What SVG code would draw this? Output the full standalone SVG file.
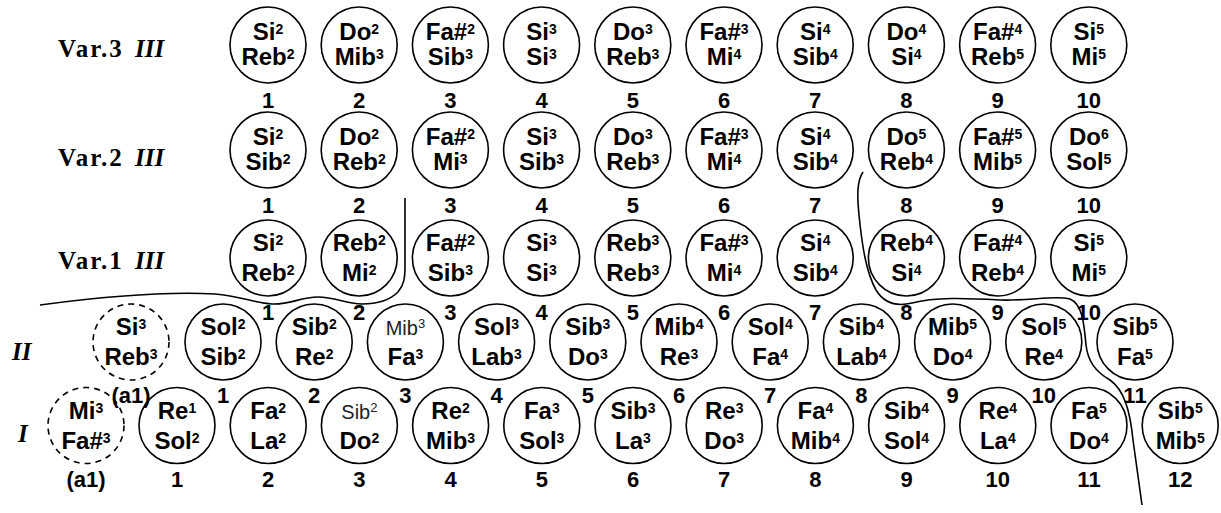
<svg xmlns="http://www.w3.org/2000/svg" width="1221" height="513" viewBox="0 0 1221 513">
<style>
.c{fill:none;stroke:#000;stroke-width:1.6}
.d{stroke-dasharray:6 5}
.t{font-family:"Liberation Sans",Arial,sans-serif;font-weight:bold;font-size:24px;text-anchor:middle;fill:#000}
.s{font-size:14px}
.l{font-weight:normal;font-size:20px;fill:#222}
.ls{font-size:13px}
.n{font-family:"Liberation Sans",Arial,sans-serif;font-weight:bold;font-size:22px;text-anchor:middle;fill:#000}
.lab{font-family:"Liberation Serif","Times New Roman",serif;font-weight:bold;font-size:25px;fill:#000}
.it{font-style:italic;letter-spacing:0}
.ln{fill:none;stroke:#000;stroke-width:1.6}
</style>
<rect width="1221" height="513" fill="#fff"/>
<g id="labels">
<text class="lab" x="58" y="57" letter-spacing="2">Var.3</text><text class="lab it" x="135" y="57">III</text>
<text class="lab" x="58" y="166" letter-spacing="2">Var.2</text><text class="lab it" x="135" y="166">III</text>
<text class="lab" x="58" y="269" letter-spacing="2">Var.1</text><text class="lab it" x="135" y="269">III</text>
<text class="lab it" x="12" y="360">II</text>
<text class="lab it" x="18" y="442">I</text>
</g>
<g id="var3">
<g id="v3-1"><circle class="c" cx="268" cy="45" r="38"/><text class="t" x="268" y="40">Si<tspan class="s" dy="-6">2</tspan></text><text class="t" x="268" y="65">Reb<tspan class="s" dy="-6">2</tspan></text><text class="n" x="268" y="108">1</text></g>
<g id="v3-2"><circle class="c" cx="359.2" cy="45" r="38"/><text class="t" x="359.2" y="40">Do<tspan class="s" dy="-6">2</tspan></text><text class="t" x="359.2" y="65">Mib<tspan class="s" dy="-6">3</tspan></text><text class="n" x="359.2" y="108">2</text></g>
<g id="v3-3"><circle class="c" cx="450.4" cy="45" r="38"/><text class="t" x="450.4" y="40">Fa#<tspan class="s" dy="-6">2</tspan></text><text class="t" x="450.4" y="65">Sib<tspan class="s" dy="-6">3</tspan></text><text class="n" x="450.4" y="108">3</text></g>
<g id="v3-4"><circle class="c" cx="541.6" cy="45" r="38"/><text class="t" x="541.6" y="40">Si<tspan class="s" dy="-6">3</tspan></text><text class="t" x="541.6" y="65">Si<tspan class="s" dy="-6">3</tspan></text><text class="n" x="541.6" y="108">4</text></g>
<g id="v3-5"><circle class="c" cx="632.8" cy="45" r="38"/><text class="t" x="632.8" y="40">Do<tspan class="s" dy="-6">3</tspan></text><text class="t" x="632.8" y="65">Reb<tspan class="s" dy="-6">3</tspan></text><text class="n" x="632.8" y="108">5</text></g>
<g id="v3-6"><circle class="c" cx="724" cy="45" r="38"/><text class="t" x="724" y="40">Fa#<tspan class="s" dy="-6">3</tspan></text><text class="t" x="724" y="65">Mi<tspan class="s" dy="-6">4</tspan></text><text class="n" x="724" y="108">6</text></g>
<g id="v3-7"><circle class="c" cx="815.2" cy="45" r="38"/><text class="t" x="815.2" y="40">Si<tspan class="s" dy="-6">4</tspan></text><text class="t" x="815.2" y="65">Sib<tspan class="s" dy="-6">4</tspan></text><text class="n" x="815.2" y="108">7</text></g>
<g id="v3-8"><circle class="c" cx="906.4" cy="45" r="38"/><text class="t" x="906.4" y="40">Do<tspan class="s" dy="-6">4</tspan></text><text class="t" x="906.4" y="65">Si<tspan class="s" dy="-6">4</tspan></text><text class="n" x="906.4" y="108">8</text></g>
<g id="v3-9"><circle class="c" cx="997.6" cy="45" r="38"/><text class="t" x="997.6" y="40">Fa#<tspan class="s" dy="-6">4</tspan></text><text class="t" x="997.6" y="65">Reb<tspan class="s" dy="-6">5</tspan></text><text class="n" x="997.6" y="108">9</text></g>
<g id="v3-10"><circle class="c" cx="1088.8" cy="45" r="38"/><text class="t" x="1088.8" y="40">Si<tspan class="s" dy="-6">5</tspan></text><text class="t" x="1088.8" y="65">Mi<tspan class="s" dy="-6">5</tspan></text><text class="n" x="1088.8" y="108">10</text></g>
</g>
<g id="var2">
<g id="v2-1"><circle class="c" cx="268" cy="150" r="38"/><text class="t" x="268" y="145">Si<tspan class="s" dy="-6">2</tspan></text><text class="t" x="268" y="170">Sib<tspan class="s" dy="-6">2</tspan></text><text class="n" x="268" y="213">1</text></g>
<g id="v2-2"><circle class="c" cx="359.2" cy="150" r="38"/><text class="t" x="359.2" y="145">Do<tspan class="s" dy="-6">2</tspan></text><text class="t" x="359.2" y="170">Reb<tspan class="s" dy="-6">2</tspan></text><text class="n" x="359.2" y="213">2</text></g>
<g id="v2-3"><circle class="c" cx="450.4" cy="150" r="38"/><text class="t" x="450.4" y="145">Fa#<tspan class="s" dy="-6">2</tspan></text><text class="t" x="450.4" y="170">Mi<tspan class="s" dy="-6">3</tspan></text><text class="n" x="450.4" y="213">3</text></g>
<g id="v2-4"><circle class="c" cx="541.6" cy="150" r="38"/><text class="t" x="541.6" y="145">Si<tspan class="s" dy="-6">3</tspan></text><text class="t" x="541.6" y="170">Sib<tspan class="s" dy="-6">3</tspan></text><text class="n" x="541.6" y="213">4</text></g>
<g id="v2-5"><circle class="c" cx="632.8" cy="150" r="38"/><text class="t" x="632.8" y="145">Do<tspan class="s" dy="-6">3</tspan></text><text class="t" x="632.8" y="170">Reb<tspan class="s" dy="-6">3</tspan></text><text class="n" x="632.8" y="213">5</text></g>
<g id="v2-6"><circle class="c" cx="724" cy="150" r="38"/><text class="t" x="724" y="145">Fa#<tspan class="s" dy="-6">3</tspan></text><text class="t" x="724" y="170">Mi<tspan class="s" dy="-6">4</tspan></text><text class="n" x="724" y="213">6</text></g>
<g id="v2-7"><circle class="c" cx="815.2" cy="150" r="38"/><text class="t" x="815.2" y="145">Si<tspan class="s" dy="-6">4</tspan></text><text class="t" x="815.2" y="170">Sib<tspan class="s" dy="-6">4</tspan></text><text class="n" x="815.2" y="213">7</text></g>
<g id="v2-8"><circle class="c" cx="906.4" cy="150" r="38"/><text class="t" x="906.4" y="145">Do<tspan class="s" dy="-6">5</tspan></text><text class="t" x="906.4" y="170">Reb<tspan class="s" dy="-6">4</tspan></text><text class="n" x="906.4" y="213">8</text></g>
<g id="v2-9"><circle class="c" cx="997.6" cy="150" r="38"/><text class="t" x="997.6" y="145">Fa#<tspan class="s" dy="-6">5</tspan></text><text class="t" x="997.6" y="170">Mib<tspan class="s" dy="-6">5</tspan></text><text class="n" x="997.6" y="213">9</text></g>
<g id="v2-10"><circle class="c" cx="1088.8" cy="150" r="38"/><text class="t" x="1088.8" y="145">Do<tspan class="s" dy="-6">6</tspan></text><text class="t" x="1088.8" y="170">Sol<tspan class="s" dy="-6">5</tspan></text><text class="n" x="1088.8" y="213">10</text></g>
</g>
<g id="var1">
<g id="v1-1"><circle class="c" cx="268" cy="258" r="38"/><text class="t" x="268" y="251">Si<tspan class="s" dy="-6">2</tspan></text><text class="t" x="268" y="281">Reb<tspan class="s" dy="-6">2</tspan></text><text class="n" x="268" y="320">1</text></g>
<g id="v1-2"><circle class="c" cx="359.2" cy="258" r="38"/><text class="t" x="359.2" y="251">Reb<tspan class="s" dy="-6">2</tspan></text><text class="t" x="359.2" y="281">Mi<tspan class="s" dy="-6">2</tspan></text><text class="n" x="359.2" y="320">2</text></g>
<g id="v1-3"><circle class="c" cx="450.4" cy="258" r="38"/><text class="t" x="450.4" y="251">Fa#<tspan class="s" dy="-6">2</tspan></text><text class="t" x="450.4" y="281">Sib<tspan class="s" dy="-6">3</tspan></text><text class="n" x="450.4" y="320">3</text></g>
<g id="v1-4"><circle class="c" cx="541.6" cy="258" r="38"/><text class="t" x="541.6" y="251">Si<tspan class="s" dy="-6">3</tspan></text><text class="t" x="541.6" y="281">Si<tspan class="s" dy="-6">3</tspan></text><text class="n" x="541.6" y="320">4</text></g>
<g id="v1-5"><circle class="c" cx="632.8" cy="258" r="38"/><text class="t" x="632.8" y="251">Reb<tspan class="s" dy="-6">3</tspan></text><text class="t" x="632.8" y="281">Reb<tspan class="s" dy="-6">3</tspan></text><text class="n" x="632.8" y="320">5</text></g>
<g id="v1-6"><circle class="c" cx="724" cy="258" r="38"/><text class="t" x="724" y="251">Fa#<tspan class="s" dy="-6">3</tspan></text><text class="t" x="724" y="281">Mi<tspan class="s" dy="-6">4</tspan></text><text class="n" x="724" y="320">6</text></g>
<g id="v1-7"><circle class="c" cx="815.2" cy="258" r="38"/><text class="t" x="815.2" y="251">Si<tspan class="s" dy="-6">4</tspan></text><text class="t" x="815.2" y="281">Sib<tspan class="s" dy="-6">4</tspan></text><text class="n" x="815.2" y="320">7</text></g>
<g id="v1-8"><circle class="c" cx="906.4" cy="258" r="38"/><text class="t" x="906.4" y="251">Reb<tspan class="s" dy="-6">4</tspan></text><text class="t" x="906.4" y="281">Si<tspan class="s" dy="-6">4</tspan></text><text class="n" x="906.4" y="320">8</text></g>
<g id="v1-9"><circle class="c" cx="997.6" cy="258" r="38"/><text class="t" x="997.6" y="251">Fa#<tspan class="s" dy="-6">4</tspan></text><text class="t" x="997.6" y="281">Reb<tspan class="s" dy="-6">4</tspan></text><text class="n" x="997.6" y="320">9</text></g>
<g id="v1-10"><circle class="c" cx="1088.8" cy="258" r="38"/><text class="t" x="1088.8" y="251">Si<tspan class="s" dy="-6">5</tspan></text><text class="t" x="1088.8" y="281">Mi<tspan class="s" dy="-6">5</tspan></text><text class="n" x="1088.8" y="320">10</text></g>
</g>
<g id="row2">
<g id="r2-a1"><circle class="c d" cx="131" cy="342" r="38"/><text class="t" x="131" y="335">Si<tspan class="s" dy="-6">3</tspan></text><text class="t" x="131" y="365">Reb<tspan class="s" dy="-6">3</tspan></text><text class="n" x="131" y="403">(a1)</text></g>
<g id="r2-1"><circle class="c" cx="223" cy="342" r="38"/><text class="t" x="223" y="335">Sol<tspan class="s" dy="-6">2</tspan></text><text class="t" x="223" y="365">Sib<tspan class="s" dy="-6">2</tspan></text><text class="n" x="223" y="403">1</text></g>
<g id="r2-2"><circle class="c" cx="314.2" cy="342" r="38"/><text class="t" x="314.2" y="335">Sib<tspan class="s" dy="-6">2</tspan></text><text class="t" x="314.2" y="365">Re<tspan class="s" dy="-6">2</tspan></text><text class="n" x="314.2" y="403">2</text></g>
<g id="r2-3"><circle class="c" cx="405.4" cy="342" r="38"/><text class="t l" x="405.4" y="335">Mib<tspan class="ls" dy="-7">3</tspan></text><text class="t" x="405.4" y="365">Fa<tspan class="s" dy="-6">3</tspan></text><text class="n" x="405.4" y="403">3</text></g>
<g id="r2-4"><circle class="c" cx="496.6" cy="342" r="38"/><text class="t" x="496.6" y="335">Sol<tspan class="s" dy="-6">3</tspan></text><text class="t" x="496.6" y="365">Lab<tspan class="s" dy="-6">3</tspan></text><text class="n" x="496.6" y="403">4</text></g>
<g id="r2-5"><circle class="c" cx="587.8" cy="342" r="38"/><text class="t" x="587.8" y="335">Sib<tspan class="s" dy="-6">3</tspan></text><text class="t" x="587.8" y="365">Do<tspan class="s" dy="-6">3</tspan></text><text class="n" x="587.8" y="403">5</text></g>
<g id="r2-6"><circle class="c" cx="679" cy="342" r="38"/><text class="t" x="679" y="335">Mib<tspan class="s" dy="-6">4</tspan></text><text class="t" x="679" y="365">Re<tspan class="s" dy="-6">3</tspan></text><text class="n" x="679" y="403">6</text></g>
<g id="r2-7"><circle class="c" cx="770.2" cy="342" r="38"/><text class="t" x="770.2" y="335">Sol<tspan class="s" dy="-6">4</tspan></text><text class="t" x="770.2" y="365">Fa<tspan class="s" dy="-6">4</tspan></text><text class="n" x="770.2" y="403">7</text></g>
<g id="r2-8"><circle class="c" cx="861.4" cy="342" r="38"/><text class="t" x="861.4" y="335">Sib<tspan class="s" dy="-6">4</tspan></text><text class="t" x="861.4" y="365">Lab<tspan class="s" dy="-6">4</tspan></text><text class="n" x="861.4" y="403">8</text></g>
<g id="r2-9"><circle class="c" cx="952.6" cy="342" r="38"/><text class="t" x="952.6" y="335">Mib<tspan class="s" dy="-6">5</tspan></text><text class="t" x="952.6" y="365">Do<tspan class="s" dy="-6">4</tspan></text><text class="n" x="952.6" y="403">9</text></g>
<g id="r2-10"><circle class="c" cx="1043.8" cy="342" r="38"/><text class="t" x="1043.8" y="335">Sol<tspan class="s" dy="-6">5</tspan></text><text class="t" x="1043.8" y="365">Re<tspan class="s" dy="-6">4</tspan></text><text class="n" x="1043.8" y="403">10</text></g>
<g id="r2-11"><circle class="c" cx="1135" cy="342" r="38"/><text class="t" x="1135" y="335">Sib<tspan class="s" dy="-6">5</tspan></text><text class="t" x="1135" y="365">Fa<tspan class="s" dy="-6">5</tspan></text><text class="n" x="1135" y="403">11</text></g>
</g>
<g id="row1">
<g id="r1-a1"><circle class="c d" cx="86" cy="425.5" r="38"/><text class="t" x="86" y="418.5">Mi<tspan class="s" dy="-6">3</tspan></text><text class="t" x="86" y="448.5">Fa#<tspan class="s" dy="-6">3</tspan></text><text class="n" x="86" y="487">(a1)</text></g>
<g id="r1-1"><circle class="c" cx="177" cy="425.5" r="38"/><text class="t" x="177" y="418.5">Re<tspan class="s" dy="-6">1</tspan></text><text class="t" x="177" y="448.5">Sol<tspan class="s" dy="-6">2</tspan></text><text class="n" x="177" y="487">1</text></g>
<g id="r1-2"><circle class="c" cx="268.2" cy="425.5" r="38"/><text class="t" x="268.2" y="418.5">Fa<tspan class="s" dy="-6">2</tspan></text><text class="t" x="268.2" y="448.5">La<tspan class="s" dy="-6">2</tspan></text><text class="n" x="268.2" y="487">2</text></g>
<g id="r1-3"><circle class="c" cx="359.4" cy="425.5" r="38"/><text class="t l" x="359.4" y="418.5">Sib<tspan class="ls" dy="-7">2</tspan></text><text class="t" x="359.4" y="448.5">Do<tspan class="s" dy="-6">2</tspan></text><text class="n" x="359.4" y="487">3</text></g>
<g id="r1-4"><circle class="c" cx="450.6" cy="425.5" r="38"/><text class="t" x="450.6" y="418.5">Re<tspan class="s" dy="-6">2</tspan></text><text class="t" x="450.6" y="448.5">Mib<tspan class="s" dy="-6">3</tspan></text><text class="n" x="450.6" y="487">4</text></g>
<g id="r1-5"><circle class="c" cx="541.8" cy="425.5" r="38"/><text class="t" x="541.8" y="418.5">Fa<tspan class="s" dy="-6">3</tspan></text><text class="t" x="541.8" y="448.5">Sol<tspan class="s" dy="-6">3</tspan></text><text class="n" x="541.8" y="487">5</text></g>
<g id="r1-6"><circle class="c" cx="633" cy="425.5" r="38"/><text class="t" x="633" y="418.5">Sib<tspan class="s" dy="-6">3</tspan></text><text class="t" x="633" y="448.5">La<tspan class="s" dy="-6">3</tspan></text><text class="n" x="633" y="487">6</text></g>
<g id="r1-7"><circle class="c" cx="724.2" cy="425.5" r="38"/><text class="t" x="724.2" y="418.5">Re<tspan class="s" dy="-6">3</tspan></text><text class="t" x="724.2" y="448.5">Do<tspan class="s" dy="-6">3</tspan></text><text class="n" x="724.2" y="487">7</text></g>
<g id="r1-8"><circle class="c" cx="815.4" cy="425.5" r="38"/><text class="t" x="815.4" y="418.5">Fa<tspan class="s" dy="-6">4</tspan></text><text class="t" x="815.4" y="448.5">Mib<tspan class="s" dy="-6">4</tspan></text><text class="n" x="815.4" y="487">8</text></g>
<g id="r1-9"><circle class="c" cx="906.6" cy="425.5" r="38"/><text class="t" x="906.6" y="418.5">Sib<tspan class="s" dy="-6">4</tspan></text><text class="t" x="906.6" y="448.5">Sol<tspan class="s" dy="-6">4</tspan></text><text class="n" x="906.6" y="487">9</text></g>
<g id="r1-10"><circle class="c" cx="997.8" cy="425.5" r="38"/><text class="t" x="997.8" y="418.5">Re<tspan class="s" dy="-6">4</tspan></text><text class="t" x="997.8" y="448.5">La<tspan class="s" dy="-6">4</tspan></text><text class="n" x="997.8" y="487">10</text></g>
<g id="r1-11"><circle class="c" cx="1089" cy="425.5" r="38"/><text class="t" x="1089" y="418.5">Fa<tspan class="s" dy="-6">5</tspan></text><text class="t" x="1089" y="448.5">Do<tspan class="s" dy="-6">4</tspan></text><text class="n" x="1089" y="487">11</text></g>
<g id="r1-12"><circle class="c" cx="1180.2" cy="425.5" r="38"/><text class="t" x="1180.2" y="418.5">Sib<tspan class="s" dy="-6">5</tspan></text><text class="t" x="1180.2" y="448.5">Mib<tspan class="s" dy="-6">5</tspan></text><text class="n" x="1180.2" y="487">12</text></g>
</g>
<g id="connectors">
<path class="ln" d="M40,305 C100,297 160,291 215,294 C240,296 255,303 272,304 C290,305 300,297 318,297 C336,297 345,304 362,304 C378,304 390,300 398,292 C404,285 405,278 405,266 L405,198"/>
<path class="ln" d="M863,172 C857,181 857,195 859,215 C862,245 866,272 876,290 C884,303 896,307 912,303 C935,297 965,298 1000,300 C1030,301 1055,295 1070,299 C1082,304 1084,322 1086,345 C1088,362 1096,372 1110,380 C1124,390 1130,410 1133,440 L1142,505"/>
</g>
</svg>
